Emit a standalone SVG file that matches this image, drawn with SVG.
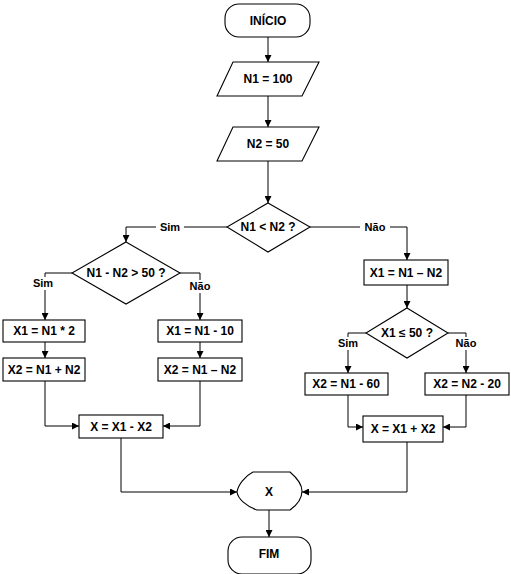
<svg xmlns="http://www.w3.org/2000/svg" width="511" height="574" viewBox="0 0 511 574">
<defs>
<marker id="ah" viewBox="0 0 8 8" refX="8" refY="4" markerWidth="7" markerHeight="7" markerUnits="userSpaceOnUse" orient="auto">
<path d="M0,0 L8,4 L0,8 Z" fill="#000"/>
</marker>
<style>
.n{fill:#fff;stroke:#000;stroke-width:1.1}
.t{font-family:"Liberation Sans",Arial,sans-serif;font-weight:bold;font-size:12px;fill:#000;text-anchor:middle}
.l{font-family:"Liberation Sans",Arial,sans-serif;font-weight:bold;font-size:11px;fill:#000;text-anchor:middle}
.c{fill:none;stroke:#000;stroke-width:1;marker-end:url(#ah)}
.lb{fill:#fff}
</style>
</defs>
<rect width="511" height="574" fill="#fff"/>
<g id="connectors">
<path class="c" d="M268,37 V62"/>
<path class="c" d="M268,96 V127"/>
<path class="c" d="M268,161 V203"/>
<path class="c" d="M227,227 H126 V242"/>
<path class="c" d="M310,227 H407 V260"/>
<path class="c" d="M72,273 H45 V320"/>
<path class="c" d="M180,273 H200 V320"/>
<path class="c" d="M45,342 V358"/>
<path class="c" d="M200,342 V358"/>
<path class="c" d="M45,381 V426 H79"/>
<path class="c" d="M200,381 V426 H163"/>
<path class="c" d="M121,438 V492 H237"/>
<path class="c" d="M407,285 V308"/>
<path class="c" d="M366,333 H348 V373"/>
<path class="c" d="M448,333 H466 V373"/>
<path class="c" d="M348,395 V427 H363"/>
<path class="c" d="M466,395 V427 H443"/>
<path class="c" d="M407,442 V492 H302"/>
<path class="c" d="M269,510 V537"/>
<g id="labels">
<rect class="lb" x="156" y="221" width="28" height="12"/><text class="l" x="170" y="231">Sim</text>
<rect class="lb" x="360" y="221" width="30" height="12"/><text class="l" x="375" y="231">Não</text>
<rect class="lb" x="29" y="277" width="28" height="13"/><text class="l" x="43" y="287">Sim</text>
<rect class="lb" x="186" y="280" width="28" height="13"/><text class="l" x="200" y="290">Não</text>
<rect class="lb" x="334" y="337" width="28" height="13"/><text class="l" x="348" y="347">Sim</text>
<rect class="lb" x="452" y="337" width="28" height="13"/><text class="l" x="466" y="347">Não</text>
</g>
</g>
<g id="inicio"><rect class="n" x="225" y="4" width="85" height="33" rx="14"/><text class="t" x="268" y="25">INÍCIO</text></g>
<g id="n1"><polygon class="n" points="233,62 319,62 302,96 217,96"/><text class="t" x="268" y="83">N1 = 100</text></g>
<g id="n2"><polygon class="n" points="233,127 319,127 302,161 217,161"/><text class="t" x="268" y="148">N2 = 50</text></g>
<g id="d1"><polygon class="n" points="268,203 310,227 268,252 227,227"/><text class="t" x="268" y="231">N1 &lt; N2 ?</text></g>
<g id="d2"><polygon class="n" points="126,242 180,273 126,304 72,273"/><text class="t" x="126" y="277">N1 - N2 &gt; 50 ?</text></g>
<g id="b1"><rect class="n" x="3" y="320" width="82" height="22"/><text class="t" x="44" y="335">X1 = N1 * 2</text></g>
<g id="b2"><rect class="n" x="3" y="358" width="82" height="23"/><text class="t" x="44" y="374">X2 = N1 + N2</text></g>
<g id="b3"><rect class="n" x="158" y="320" width="84" height="22"/><text class="t" x="200" y="335">X1 = N1 - 10</text></g>
<g id="b4"><rect class="n" x="158" y="358" width="84" height="23"/><text class="t" x="200" y="374">X2 = N1 – N2</text></g>
<g id="b5"><rect class="n" x="79" y="415" width="84" height="23"/><text class="t" x="121" y="431">X = X1 - X2</text></g>
<g id="b6"><rect class="n" x="364" y="260" width="84" height="25"/><text class="t" x="406" y="277">X1 = N1 – N2</text></g>
<g id="d3"><polygon class="n" points="407,308 448,333 407,358 366,333"/><text class="t" x="407" y="337">X1 ≤ 50 ?</text></g>
<g id="b7"><rect class="n" x="305" y="373" width="83" height="22"/><text class="t" x="346" y="388">X2 = N1 - 60</text></g>
<g id="b8"><rect class="n" x="425" y="373" width="84" height="22"/><text class="t" x="467" y="388">X2 = N2 - 20</text></g>
<g id="b9"><rect class="n" x="363" y="416" width="80" height="26"/><text class="t" x="403" y="433">X = X1 + X2</text></g>
<g id="x"><path class="n" d="M253,472 H290 C297,478 302,485 302,491 C302,498 297,505 290,510 H257 C246,506 238,499 237,492 C238,485 245,476 253,472 Z"/><text class="t" x="269" y="496">X</text></g>
<g id="fim"><rect class="n" x="228" y="537" width="83" height="37" rx="14"/><text class="t" x="269" y="558">FIM</text></g>
</svg>
